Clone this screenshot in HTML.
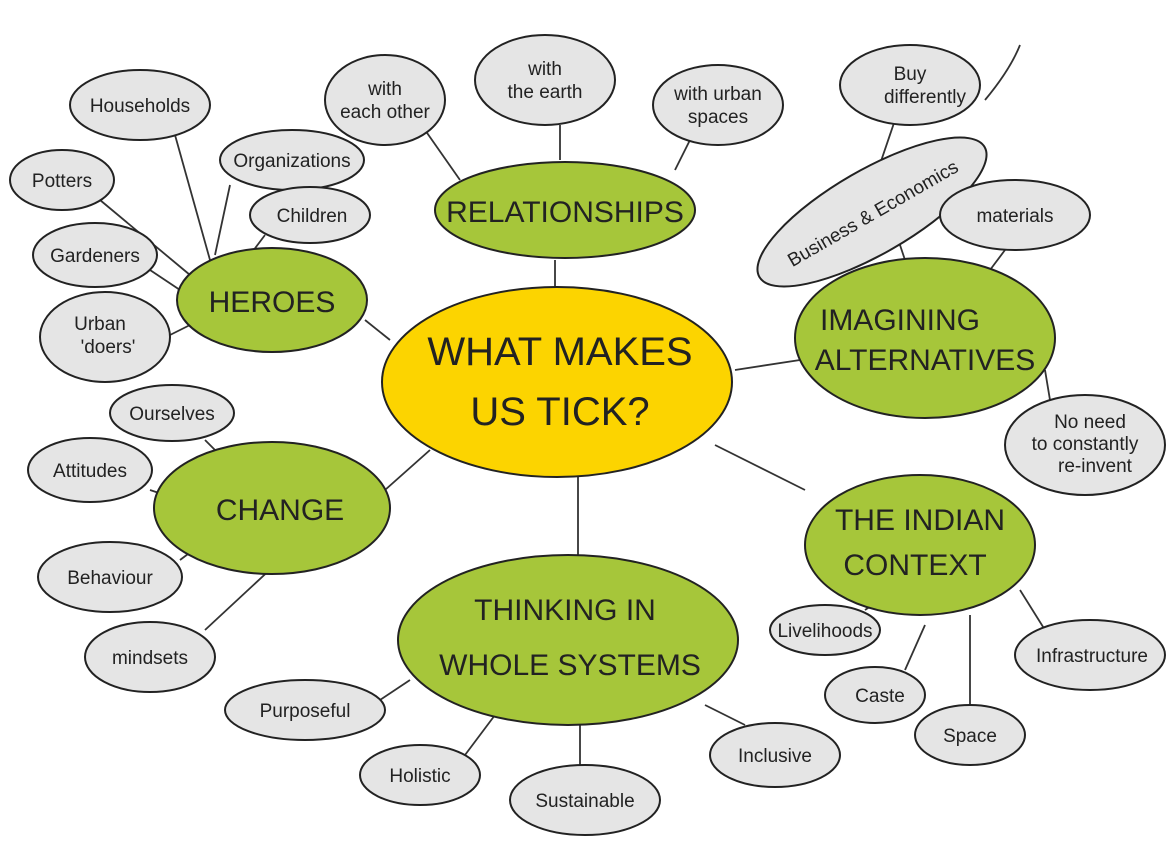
<!DOCTYPE html>
<html><head><meta charset="utf-8"><style>
html,body{margin:0;padding:0;background:#fff;}
svg{display:block}
text{font-family:"Liberation Sans Narrow","Liberation Sans",sans-serif;fill:#222;text-anchor:middle;}
.g{fill:#e5e5e5;stroke:#222;stroke-width:2}
.gr{fill:#a6c63a;stroke:#222;stroke-width:2}
.l{stroke:#333;stroke-width:1.8;fill:none}
.s{font-size:19px}
.b{font-size:30px}
</style></head><body>
<svg width="1170" height="848" viewBox="0 0 1170 848">
<g class="l">
<line x1="555" y1="260" x2="555" y2="290"/>
<line x1="365" y1="320" x2="390" y2="340"/>
<line x1="735" y1="370" x2="800" y2="360"/>
<line x1="430" y1="450" x2="385" y2="490"/>
<line x1="715" y1="445" x2="805" y2="490"/>
<line x1="578" y1="470" x2="578" y2="555"/>
<line x1="175" y1="135" x2="210" y2="260"/>
<line x1="100" y1="200" x2="190" y2="275"/>
<line x1="230" y1="185" x2="215" y2="255"/>
<line x1="265" y1="235" x2="250" y2="255"/>
<line x1="150" y1="270" x2="180" y2="290"/>
<line x1="160" y1="340" x2="190" y2="325"/>
<line x1="205" y1="440" x2="225" y2="460"/>
<line x1="150" y1="490" x2="165" y2="495"/>
<line x1="180" y1="560" x2="200" y2="545"/>
<line x1="205" y1="630" x2="275" y2="565"/>
<line x1="425" y1="130" x2="460" y2="180"/>
<line x1="560" y1="125" x2="560" y2="160"/>
<line x1="690" y1="140" x2="675" y2="170"/>
<line x1="895" y1="120" x2="878" y2="170"/>
<line x1="1005" y1="250" x2="990" y2="270"/>
<line x1="900" y1="245" x2="905" y2="260"/>
<line x1="1045" y1="370" x2="1050" y2="400"/>
<line x1="865" y1="610" x2="880" y2="600"/>
<line x1="925" y1="625" x2="905" y2="670"/>
<line x1="970" y1="615" x2="970" y2="705"/>
<line x1="1020" y1="590" x2="1045" y2="630"/>
<line x1="380" y1="700" x2="410" y2="680"/>
<line x1="465" y1="755" x2="495" y2="715"/>
<line x1="580" y1="765" x2="580" y2="725"/>
<line x1="745" y1="725" x2="705" y2="705"/>
<path d="M985 100 Q1010 70 1020 45"/>
</g>
<ellipse class="gr" cx="565" cy="210" rx="130" ry="48"/>
<ellipse class="gr" cx="272" cy="300" rx="95" ry="52"/>
<ellipse class="gr" cx="925" cy="338" rx="130" ry="80"/>
<ellipse class="gr" cx="272" cy="508" rx="118" ry="66"/>
<ellipse class="gr" cx="920" cy="545" rx="115" ry="70"/>
<ellipse class="gr" cx="568" cy="640" rx="170" ry="85"/>
<ellipse cx="557" cy="382" rx="175" ry="95" fill="#fcd400" stroke="#222" stroke-width="2"/>
<g class="g">
<ellipse cx="140" cy="105" rx="70" ry="35"/>
<ellipse cx="62" cy="180" rx="52" ry="30"/>
<ellipse cx="292" cy="160" rx="72" ry="30"/>
<ellipse cx="310" cy="215" rx="60" ry="28"/>
<ellipse cx="95" cy="255" rx="62" ry="32"/>
<ellipse cx="105" cy="337" rx="65" ry="45"/>
<ellipse cx="172" cy="413" rx="62" ry="28"/>
<ellipse cx="90" cy="470" rx="62" ry="32"/>
<ellipse cx="110" cy="577" rx="72" ry="35"/>
<ellipse cx="150" cy="657" rx="65" ry="35"/>
<ellipse cx="385" cy="100" rx="60" ry="45"/>
<ellipse cx="545" cy="80" rx="70" ry="45"/>
<ellipse cx="718" cy="105" rx="65" ry="40"/>
<ellipse cx="910" cy="85" rx="70" ry="40"/>
<ellipse cx="872" cy="212" rx="130" ry="42" transform="rotate(-30 872 212)"/>
<ellipse cx="1015" cy="215" rx="75" ry="35"/>
<ellipse cx="1085" cy="445" rx="80" ry="50"/>
<ellipse cx="825" cy="630" rx="55" ry="25"/>
<ellipse cx="1090" cy="655" rx="75" ry="35"/>
<ellipse cx="875" cy="695" rx="50" ry="28"/>
<ellipse cx="970" cy="735" rx="55" ry="30"/>
<ellipse cx="305" cy="710" rx="80" ry="30"/>
<ellipse cx="420" cy="775" rx="60" ry="30"/>
<ellipse cx="585" cy="800" rx="75" ry="35"/>
<ellipse cx="775" cy="755" rx="65" ry="32"/>
</g>
<text x="560" y="365" style="font-size:40px">WHAT MAKES</text>
<text x="560" y="425" style="font-size:40px">US TICK?</text>
<text class="b" x="565" y="222">RELATIONSHIPS</text>
<text class="b" x="272" y="312">HEROES</text>
<text class="b" x="900" y="330">IMAGINING</text>
<text class="b" x="925" y="370">ALTERNATIVES</text>
<text class="b" x="280" y="520">CHANGE</text>
<text class="b" x="920" y="530">THE INDIAN</text>
<text class="b" x="915" y="575">CONTEXT</text>
<text class="b" x="565" y="620">THINKING IN</text>
<text class="b" x="570" y="675">WHOLE SYSTEMS</text>
<text class="s" x="140" y="112">Households</text>
<text class="s" x="62" y="187">Potters</text>
<text class="s" x="292" y="167">Organizations</text>
<text class="s" x="312" y="222">Children</text>
<text class="s" x="95" y="262">Gardeners</text>
<text class="s" x="100" y="330">Urban</text>
<text class="s" x="108" y="353">'doers'</text>
<text class="s" x="172" y="420">Ourselves</text>
<text class="s" x="90" y="477">Attitudes</text>
<text class="s" x="110" y="584">Behaviour</text>
<text class="s" x="150" y="664">mindsets</text>
<text class="s" x="385" y="95">with</text>
<text class="s" x="385" y="118">each other</text>
<text class="s" x="545" y="75">with</text>
<text class="s" x="545" y="98">the earth</text>
<text class="s" x="718" y="100">with urban</text>
<text class="s" x="718" y="123">spaces</text>
<text class="s" x="910" y="80">Buy</text>
<text class="s" x="925" y="103">differently</text>
<text class="s" x="872" y="220" transform="rotate(-30 872 212)">Business &amp; Economics</text>
<text class="s" x="1015" y="222">materials</text>
<text class="s" x="1090" y="428">No need</text>
<text class="s" x="1085" y="450">to constantly</text>
<text class="s" x="1095" y="472">re-invent</text>
<text class="s" x="825" y="637">Livelihoods</text>
<text class="s" x="1092" y="662">Infrastructure</text>
<text class="s" x="880" y="702">Caste</text>
<text class="s" x="970" y="742">Space</text>
<text class="s" x="305" y="717">Purposeful</text>
<text class="s" x="420" y="782">Holistic</text>
<text class="s" x="585" y="807">Sustainable</text>
<text class="s" x="775" y="762">Inclusive</text>
</svg>
</body></html>
